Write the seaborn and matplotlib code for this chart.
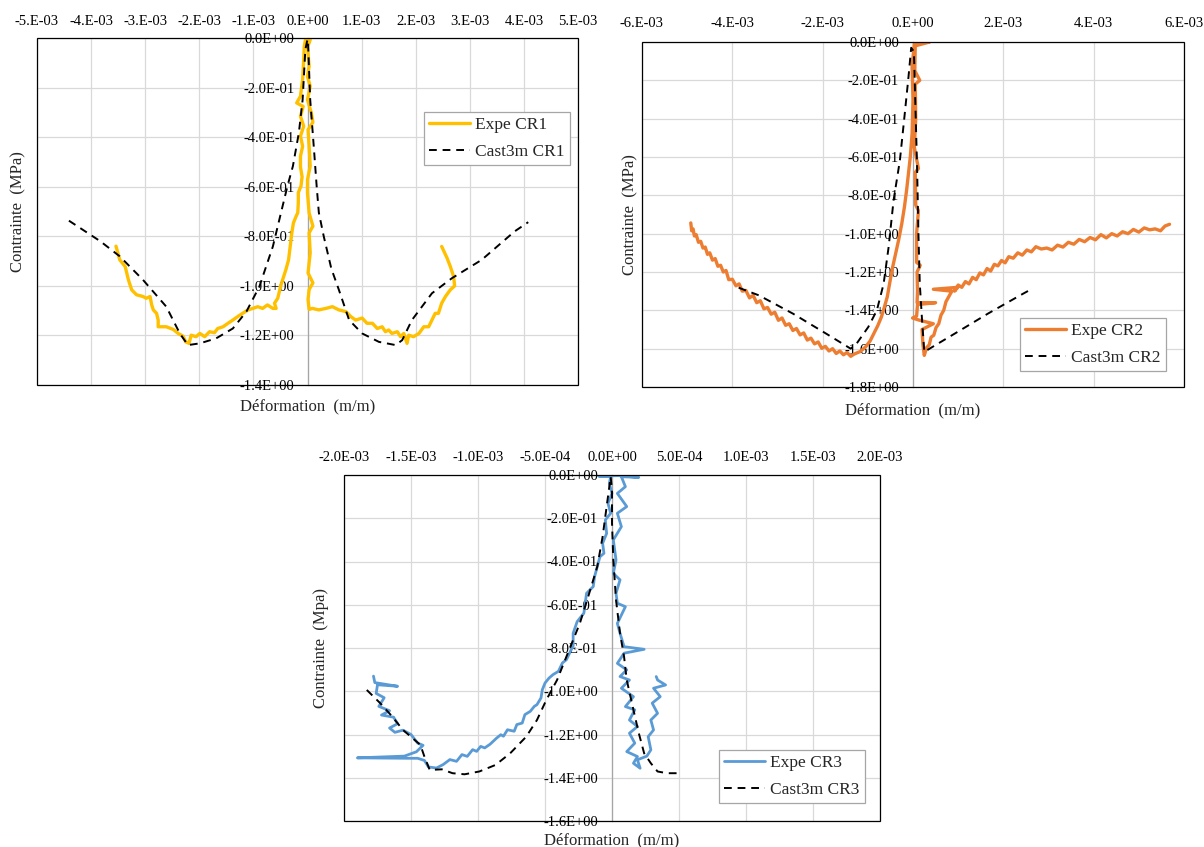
import numpy as np
import matplotlib
matplotlib.use("Agg")
import matplotlib.pyplot as plt
from matplotlib.patches import Rectangle
import seaborn as sns

sns.set_style("white")
plt.rcParams['font.family'] = ['Liberation Serif', 'DejaVu Serif']

# ---- data (strain in 1e-3 m/m, stress in MPa) ----
# CR1
cr1_expe_x = [-3.54, -3.47, -3.37, -3.31, -3.25, -3.16, -3.04, -2.98, -2.91, -2.88, -2.85, -2.79, -2.76, -2.76,
              -2.61, -2.48, -2.39, -2.30, -2.25, -2.19, -2.15, -2.06, -1.99, -1.90, -1.81, -1.72, -1.66, -1.56,
              -1.47, -1.38, -1.29, -1.20, -1.10, -1.01, -0.92, -0.83, -0.74, -0.64, -0.58, -0.61, -0.55, -0.52,
              -0.49, -0.45, -0.40, -0.35, -0.32, -0.29, -0.26, -0.21, -0.18, -0.17, -0.17, -0.12, -0.10, -0.13,
              -0.13, -0.09, -0.13, -0.07, -0.13, -0.08, -0.20, -0.13, -0.09, -0.07, -0.06, -0.035, 0.05, 0.03,
              0.0, 0.03, 0.0, 0.05, 0.0, 0.07, 0.10, 0.01, 0.03, 0.05, 0.0, 0.0, 0.03, 0.10, 0.03, 0.05, 0.01,
              0.10, 0.03, 0.01, 0.03, 0.09, 0.21, 0.34, 0.46, 0.58, 0.71, 0.80, 0.89, 1.01, 1.10, 1.20, 1.29,
              1.38, 1.44, 1.50, 1.56, 1.66, 1.72, 1.78, 1.84, 1.87, 1.96, 2.06, 2.15, 2.24, 2.30, 2.36, 2.42,
              2.48, 2.55, 2.64, 2.72, 2.70, 2.64, 2.58, 2.48]
cr1_expe_y = [-0.840, -0.895, -0.922, -0.976, -1.016, -1.036, -1.043, -1.050, -1.043, -1.077, -1.097, -1.111,
              -1.138, -1.165, -1.165, -1.176, -1.192, -1.203, -1.226, -1.232, -1.199, -1.205, -1.192, -1.205,
              -1.185, -1.189, -1.172, -1.165, -1.151, -1.138, -1.124, -1.111, -1.097, -1.091, -1.084, -1.091,
              -1.077, -1.091, -1.091, -1.070, -1.050, -1.023, -0.996, -0.969, -0.935, -0.895, -0.841, -0.786,
              -0.746, -0.719, -0.705, -0.665, -0.624, -0.597, -0.560, -0.520, -0.477, -0.437, -0.396, -0.356,
              -0.316, -0.276, -0.262, -0.235, -0.168, -0.087, -0.034, -0.004, -0.007, -0.020, -0.034, -0.114,
              -0.155, -0.195, -0.249, -0.302, -0.340, -0.370, -0.437, -0.517, -0.571, -0.625, -0.706, -0.759,
              -0.786, -0.867, -0.948, -0.988, -1.015, -1.055, -1.095, -1.091, -1.097, -1.091, -1.084, -1.097,
              -1.104, -1.124, -1.138, -1.130, -1.151, -1.151, -1.172, -1.165, -1.185, -1.178, -1.192, -1.185,
              -1.205, -1.192, -1.232, -1.199, -1.205, -1.192, -1.165, -1.165, -1.138, -1.111, -1.111, -1.070,
              -1.043, -1.016, -1.000, -0.962, -0.922, -0.888, -0.841]
cr1_cast_x = [-4.41, -3.83, -3.47, -3.04, -2.61, -2.36, -2.21, -1.99, -1.69, -1.38, -1.13, -0.89, -0.64, -0.49,
              -0.37, -0.27, -0.16, -0.09, -0.04, 0.0, 0.01, 0.05, 0.12, 0.17, 0.21, 0.30, 0.44, 0.58, 0.77,
              1.01, 1.32, 1.63, 1.75, 1.93, 2.30, 2.67, 3.22, 3.83, 4.08]
cr1_cast_y = [-0.737, -0.820, -0.881, -0.976, -1.084, -1.192, -1.239, -1.232, -1.212, -1.172, -1.104, -1.003,
              -0.841, -0.705, -0.597, -0.517, -0.383, -0.249, -0.047, -0.005, -0.020, -0.249, -0.450, -0.600,
              -0.705, -0.800, -0.930, -1.016, -1.138, -1.192, -1.226, -1.239, -1.219, -1.138, -1.030, -0.969,
              -0.895, -0.780, -0.743]

# CR2
cr2_expe_x = [-4.92, -4.90, -4.87, -4.84, -4.80, -4.75, -4.70, -4.65, -4.60, -4.55, -4.50, -4.44, -4.38, -4.32,
              -4.26, -4.20, -4.14, -4.08, -4.00, -3.92, -3.85, -3.78, -3.70, -3.62, -3.54, -3.46, -3.38, -3.30,
              -3.22, -3.14, -3.06, -2.98, -2.90, -2.82, -2.74, -2.66, -2.58, -2.50, -2.42, -2.34, -2.26, -2.18,
              -2.10, -2.02, -1.94, -1.86, -1.78, -1.70, -1.62, -1.54, -1.46, -1.38, -1.30,
              -1.17, -1.05, -0.95, -0.87, -0.78, -0.70, -0.63, -0.57, -0.51, -0.45, -0.38, -0.32, -0.25, -0.19,
              -0.14, -0.10, -0.06, -0.02, 0.0, -0.02, 0.03, 0.20, 0.37, 0.05, 0.04, 0.15, 0.05, 0.06, 0.03,
              0.12, 0.05, 0.06, 0.12, 0.08, 0.08, 0.16, 0.09, 0.10, 0.09, 0.50, 0.10, 0.08, -0.01, 0.12, 0.45,
              0.20, 0.22, 0.25, 0.30, 0.36, 0.40, 0.46, 0.51, 0.57, 0.62, 0.68, 0.73, 0.80, 0.86, 0.45, 0.99,
              0.92, 1.00, 1.08, 1.16, 1.24, 1.32, 1.40, 1.48, 1.56, 1.64, 1.72, 1.80, 1.88, 1.96, 2.04, 2.12,
              2.22, 2.32, 2.42, 2.52, 2.62, 2.72, 2.84, 2.96, 3.08, 3.20, 3.32, 3.44, 3.56, 3.68, 3.80, 3.92,
              4.04, 4.16, 4.28, 4.40, 4.52, 4.64, 4.76, 4.88, 5.00, 5.12, 5.24, 5.36, 5.48, 5.58, 5.68]
cr2_expe_y = [-0.944, -0.985, -0.975, -1.012, -1.005, -1.045, -1.040, -1.075, -1.070, -1.108, -1.100, -1.138,
              -1.130, -1.170, -1.165, -1.200, -1.192, -1.240, -1.238, -1.272, -1.262, -1.300, -1.296, -1.335,
              -1.322, -1.360, -1.350, -1.392, -1.385, -1.420, -1.410, -1.452, -1.440, -1.478, -1.470, -1.505,
              -1.495, -1.528, -1.518, -1.555, -1.545, -1.575, -1.565, -1.598, -1.588, -1.612, -1.600, -1.625,
              -1.612, -1.632, -1.620, -1.640, -1.628,
              -1.615, -1.591, -1.560, -1.522, -1.480, -1.435, -1.380, -1.330, -1.250, -1.174, -1.100, -1.035,
              -0.950, -0.861, -0.770, -0.687, -0.600, -0.478, -0.304, -0.130, -0.009, 0.0, 0.0, -0.020, -0.150,
              -0.200, -0.220, -0.400, -0.550, -0.660, -0.680, -0.850, -0.880, -1.000, -1.150, -1.165, -1.200,
              -1.300, -1.360, -1.360, -1.370, -1.430, -1.440, -1.450, -1.470, -1.500, -1.580, -1.635, -1.595,
              -1.580, -1.540, -1.530, -1.490, -1.470, -1.425, -1.400, -1.355, -1.325, -1.300, -1.290, -1.280,
              -1.300, -1.268, -1.280, -1.250, -1.262, -1.228, -1.240, -1.205, -1.215, -1.182, -1.195, -1.160,
              -1.168, -1.140, -1.152, -1.120, -1.128, -1.100, -1.112, -1.085, -1.095, -1.068, -1.080, -1.075,
              -1.085, -1.060, -1.070, -1.045, -1.055, -1.030, -1.042, -1.020, -1.032, -1.005, -1.022, -1.000,
              -1.012, -0.990, -1.000, -0.978, -0.992, -0.970, -0.980, -0.975, -0.985, -0.960, -0.951]
cr2_cast_x = [-3.86, -3.41, -2.66, -1.92, -1.38, -1.25, -0.99, -0.80, -0.65, -0.54, -0.43, -0.29, -0.19, -0.10,
              -0.04, 0.02, 0.05, 0.09, 0.12, 0.15, 0.20, 0.25, 0.43, 0.92, 1.66, 2.37, 2.64]
cr2_cast_y = [-1.282, -1.322, -1.417, -1.522, -1.600, -1.574, -1.487, -1.400, -1.261, -1.070, -0.826, -0.617,
              -0.391, -0.183, -0.030, -0.050, -0.304, -0.652, -1.000, -1.261, -1.450, -1.617, -1.591, -1.522,
              -1.417, -1.322, -1.287]

# CR3
cr3_expe_x = [-1.78, -1.77, -1.60, -1.75, -1.76, -1.70, -1.74, -1.66, -1.72, -1.63, -1.60, -1.66, -1.62, -1.56,
              -1.50, -1.45, -1.41, -1.46, -1.55, -1.90, -1.52, -1.45, -1.40, -1.37, -1.31, -1.26, -1.21, -1.16,
              -1.12, -1.08, -1.04, -1.01, -0.98, -0.95, -0.91, -0.86, -0.83, -0.81, -0.78, -0.73, -0.71, -0.67,
              -0.65, -0.61, -0.58, -0.56, -0.53, -0.52, -0.50, -0.47, -0.44, -0.40, -0.37, -0.34, -0.31, -0.29,
              -0.29, -0.26, -0.21, -0.20, -0.19, -0.14, -0.13, -0.11, -0.09, -0.06, -0.07, -0.04, -0.05, -0.01,
              -0.03, 0.0, -0.02, -0.01, -0.10, 0.05, 0.20, 0.07, 0.10, 0.04, 0.11, 0.04, 0.07, 0.01, 0.03, 0.01,
              0.06, 0.03, 0.04, 0.10, 0.04, 0.06, 0.09, 0.24, 0.09, 0.04, 0.11, 0.06, 0.13, 0.07, 0.16, 0.10,
              0.17, 0.13, 0.19, 0.13, 0.17, 0.11, 0.19, 0.16, 0.21, 0.19, 0.26, 0.29, 0.27, 0.31, 0.29, 0.34,
              0.30, 0.36, 0.31, 0.40, 0.34, 0.33]
cr3_expe_y = [-0.930, -0.960, -0.977, -0.970, -1.010, -1.030, -1.070, -1.090, -1.110, -1.120, -1.150, -1.170,
              -1.190, -1.180, -1.200, -1.240, -1.250, -1.280, -1.300, -1.308, -1.310, -1.310, -1.320, -1.350,
              -1.355, -1.339, -1.316, -1.324, -1.293, -1.301, -1.270, -1.278, -1.255, -1.262, -1.245, -1.216,
              -1.201, -1.208, -1.178, -1.185, -1.154, -1.147, -1.108, -1.093, -1.070, -1.062, -1.031, -0.993,
              -0.962, -0.939, -0.923, -0.908, -0.869, -0.854, -0.815, -0.790, -0.732, -0.678, -0.639, -0.593,
              -0.547, -0.516, -0.470, -0.424, -0.378, -0.362, -0.316, -0.270, -0.208, -0.177, -0.131, -0.085,
              -0.039, -0.008, -0.005, -0.003, -0.011, -0.008, -0.054, -0.085, -0.146, -0.177, -0.239, -0.300,
              -0.393, -0.455, -0.485, -0.547, -0.593, -0.609, -0.686, -0.732, -0.794, -0.806, -0.824, -0.871,
              -0.901, -0.932, -0.948, -0.986, -1.025, -1.071, -1.086, -1.133, -1.163, -1.194, -1.240, -1.279,
              -1.302, -1.333, -1.356, -1.317, -1.300, -1.271, -1.210, -1.179, -1.133, -1.102, -1.055, -1.025,
              -0.986, -0.971, -0.948, -0.932]
cr3_cast_x = [-1.83, -1.73, -1.64, -1.56, -1.43, -1.40, -1.36, -1.27, -1.19, -1.10, -0.99, -0.87, -0.76, -0.64,
              -0.56, -0.49, -0.41, -0.33, -0.24, -0.17, -0.11, -0.07, -0.04, -0.02, -0.01, 0.0, 0.0, 0.01, 0.03,
              0.06, 0.09, 0.11, 0.16, 0.20, 0.24, 0.29, 0.34, 0.41, 0.49]
cr3_cast_y = [-0.994, -1.055, -1.117, -1.179, -1.248, -1.302, -1.364, -1.361, -1.379, -1.384, -1.371, -1.341,
              -1.287, -1.210, -1.133, -1.040, -0.948, -0.824, -0.686, -0.547, -0.424, -0.285, -0.146, -0.054,
              -0.008, -0.069, -0.223, -0.393, -0.578, -0.732, -0.840, -0.948, -1.086, -1.194, -1.287, -1.333,
              -1.371, -1.379, -1.379]

# ticks
cr1_xticks = [-5e-3, -4e-3, -3e-3, -2e-3, -1e-3, 0, 1e-3, 2e-3, 3e-3, 4e-3, 5e-3]
cr1_xlabels = ["-5.E-03", "-4.E-03", "-3.E-03", "-2.E-03", "-1.E-03", "0.E+00",
               "1.E-03", "2.E-03", "3.E-03", "4.E-03", "5.E-03"]
cr2_xticks = [-6e-3, -4e-3, -2e-3, 0, 2e-3, 4e-3, 6e-3]
cr2_xlabels = ["-6.E-03", "-4.E-03", "-2.E-03", "0.E+00", "2.E-03", "4.E-03", "6.E-03"]
cr3_xticks = [-2e-3, -1.5e-3, -1e-3, -5e-4, 0, 5e-4, 1e-3, 1.5e-3, 2e-3]
cr3_xlabels = ["-2.0E-03", "-1.5E-03", "-1.0E-03", "-5.0E-04", "0.0E+00",
               "5.0E-04", "1.0E-03", "1.5E-03", "2.0E-03"]
y_ticks = [0, -0.2, -0.4, -0.6, -0.8, -1.0, -1.2, -1.4, -1.6, -1.8]
y_labels = ["0.0E+00", "-2.0E-01", "-4.0E-01", "-6.0E-01", "-8.0E-01",
            "-1.0E+00", "-1.2E+00", "-1.4E+00", "-1.6E+00", "-1.8E+00"]

YELLOW = "#FFC000"
ORANGE = "#ED7D31"
BLUE = "#5B9BD5"


def style_axes(ax, xticks, xlabels, nyt, xlim, ylim, xpad, ypad, ytext, ylab_x, xlab_y):
    ax.set_xlim(xlim)
    ax.set_ylim(ylim)
    ax.set_xticks(xticks)
    ax.set_xticklabels(xlabels)
    ax.set_yticks(y_ticks[:nyt])
    ax.set_yticklabels(y_labels[:nyt])
    ax.xaxis.set_ticks_position('top')
    ax.tick_params(axis='x', length=0, pad=xpad, labelsize=10.5, colors='black')
    ax.tick_params(axis='y', length=0, pad=ypad, labelsize=10.5, colors='black')
    ax.grid(True, color='#D9D9D9', lw=0.9)
    ax.set_axisbelow(True)
    ax.spines['left'].set_position(('data', 0))
    ax.spines['left'].set_color('#A6A6A6')
    ax.spines['left'].set_linewidth(0.9)
    ax.spines['left'].set_zorder(1.5)
    for s in ['top', 'right', 'bottom']:
        ax.spines[s].set_visible(False)
    ax.add_patch(Rectangle((0, 0), 1, 1, transform=ax.transAxes, fill=False,
                           ec='black', lw=0.9, zorder=3, clip_on=False))
    ax.set_xlabel("Déformation  (m/m)", fontsize=12)
    ax.xaxis.set_label_coords(0.5, xlab_y)
    ax.xaxis.label.set_va('center')
    ax.set_ylabel(ytext, fontsize=12)
    ax.yaxis.set_label_coords(ylab_x, 0.5)
    ax.yaxis.label.set_va('center')


def draw(ax, ex, ey, cx, cy, color, lw, name, anchor):
    sns.lineplot(x=np.array(ex) * 1e-3, y=ey, sort=False, estimator=None, color=color,
                 lw=lw, ax=ax, label="Expe " + name)
    sns.lineplot(x=np.array(cx) * 1e-3, y=cy, sort=False, estimator=None, color='black',
                 lw=1.4, linestyle=(0, (4, 3)), ax=ax, label="Cast3m " + name)
    leg = ax.legend(loc='upper left', bbox_to_anchor=anchor, fontsize=12.5, fancybox=False,
                    framealpha=1, edgecolor='#A6A6A6', handlelength=2.35, borderpad=0.3,
                    labelspacing=0.6, handletextpad=0.3, borderaxespad=0)
    leg.get_frame().set_linewidth(0.9)
    leg.set_zorder(5)


fig = plt.figure(figsize=(12.04, 8.47), dpi=100)

ax1 = fig.add_axes([37 / 1204, 1 - 385 / 847, 541 / 1204, 347 / 847])
draw(ax1, cr1_expe_x, cr1_expe_y, cr1_cast_x, cr1_cast_y, YELLOW, 2.4, "CR1", (0.715, 0.787))
style_axes(ax1, cr1_xticks, cr1_xlabels, 8, (-5e-3, 5e-3), (-1.4, 0), 7, 9.5,
           "Contrainte  (MPa)", -0.035, -0.063)

ax2 = fig.add_axes([642 / 1204, 1 - 387 / 847, 542 / 1204, 345 / 847])
draw(ax2, cr2_expe_x, cr2_expe_y, cr2_cast_x, cr2_cast_y, ORANGE, 2.4, "CR2", (0.697, 0.200))
style_axes(ax2, cr2_xticks, cr2_xlabels, 10, (-6e-3, 6e-3), (-1.8, 0), 8.5, 10,
           "Contrainte  (MPa)", -0.021, -0.067)

ax3 = fig.add_axes([344 / 1204, 1 - 821 / 847, 536 / 1204, 346 / 847])
draw(ax3, cr3_expe_x, cr3_expe_y, cr3_cast_x, cr3_cast_y, BLUE, 2.0, "CR3", (0.700, 0.205))
style_axes(ax3, cr3_xticks, cr3_xlabels, 9, (-2e-3, 2e-3), (-1.6, 0), 8, 10,
           "Contrainte  (Mpa)", -0.043, -0.055)

fig.savefig("out.png", dpi=100)
